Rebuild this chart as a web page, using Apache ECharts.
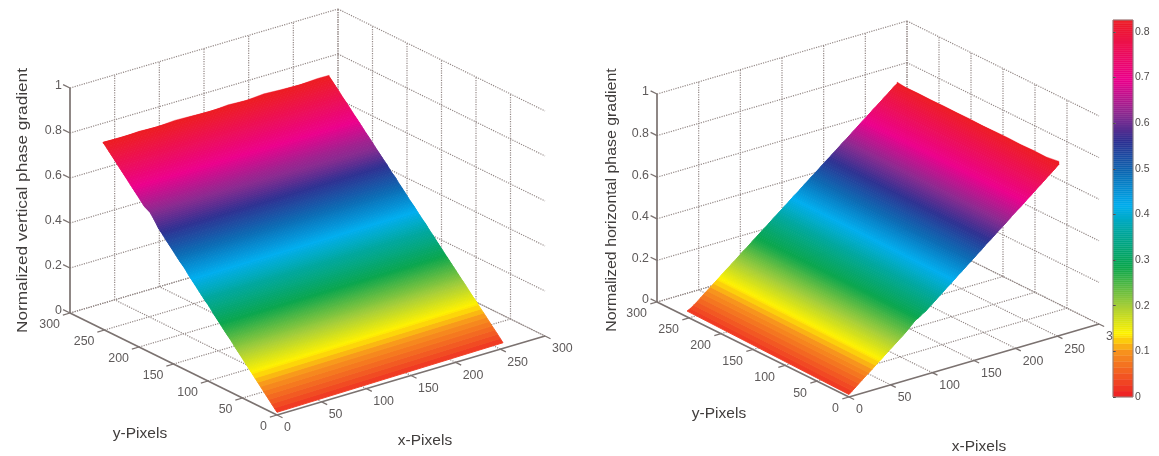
<!DOCTYPE html>
<html><head><meta charset="utf-8">
<style>html,body{margin:0;padding:0;background:#fff}#main{width:1159px;height:456px;filter:blur(0.6px)}</style>
<script src="https://cdn.jsdelivr.net/npm/echarts@6/dist/echarts.min.js"></script>
</head><body><div id="main"></div>
<script>
// ---- axis ticks
const xTicks = [0,50,100,150,200,250,300];
const yTicks = [0,50,100,150,200,250,300];
const zTicks = [0,0.2,0.4,0.6,0.8,1];
const leftXTickLabels  = ['0','50','100','150','200','250','300'];
const rightXTickLabels = ['0','50','100','150','200','250','3'];
const yTickLabels = ['0','50','100','150','200','250','300'];
const zTickLabels = ['0','0.2','0.4','0.6','0.8','1'];
const colorbarTicks = [0,0.1,0.2,0.3,0.4,0.5,0.6,0.7,0.8];

// ---- surface rows (pixels along the gradient direction)
const rowPixels = [0,4,8,12,16,20,24,28,32,36,40,44,48,52,56,60,64,68,72,76,80,84,88,92,96,100,104,108,112,116,120,124,128,132,136,140,144,148,152,156,160,164,168,172,176,180,184,188,192,196,200,204,208,212,216,220,224,228,232,236,240,244,248,252];
const spanEnd = 253;
// left surface: gradient value along y at x = 0 and at x = spanEnd
const verticalAtX0 = [.012,.025,.038,.051,.064,.077,.090,.103,.116,.129,.142,.155,.168,.181,.194,.207,.221,.234,.246,.259,.272,.285,.298,.311,.326,.339,.350,.363,.376,.389,.402,.415,.428,.443,.456,.467,.480,.493,.506,.519,.532,.545,.558,.571,.590,.607,.622,.629,.636,.649,.662,.675,.688,.701,.714,.727,.740,.753,.766,.779,.792,.805,.818,.830];
const verticalAtXEnd = [.025,.038,.051,.064,.076,.089,.102,.115,.127,.140,.153,.165,.178,.191,.204,.216,.229,.242,.254,.267,.280,.292,.305,.318,.331,.345,.356,.369,.384,.395,.407,.420,.434,.446,.457,.471,.484,.497,.509,.524,.534,.547,.562,.573,.586,.599,.611,.624,.637,.650,.662,.675,.688,.701,.713,.726,.739,.752,.764,.777,.790,.803,.816,.828];
// right surface: gradient value along x at y = 0 and at y = spanEnd
const horizontalAtY0 = [.012,.025,.038,.051,.064,.077,.089,.102,.115,.128,.141,.154,.167,.180,.192,.205,.218,.231,.246,.262,.277,.284,.297,.305,.318,.331,.344,.357,.370,.384,.396,.409,.422,.436,.448,.461,.474,.487,.500,.513,.526,.540,.552,.565,.578,.591,.603,.616,.629,.644,.656,.668,.681,.694,.707,.720,.733,.746,.759,.772,.785,.798,.811,.825];
const horizontalAtYEnd = [.028,.036,.047,.059,.072,.085,.098,.111,.123,.136,.149,.162,.175,.187,.200,.213,.226,.239,.251,.264,.277,.290,.303,.315,.328,.341,.354,.367,.379,.392,.405,.418,.431,.443,.456,.469,.482,.495,.507,.520,.533,.546,.559,.571,.584,.597,.610,.623,.635,.648,.661,.674,.687,.699,.712,.725,.738,.751,.763,.776,.789,.802,.815,.827];
// rough far edges of the surfaces
const farEdgeSpan = [0,20,40,60,80,100,120,140,160,180,200,220,240,253];
const verticalFarEdge = [.832,.828,.833,.829,.835,.832,.828,.834,.830,.836,.832,.829,.834,.833];
const horizontalFarEdge = [.838,.829,.830,.828,.830,.829,.828,.830,.829,.830,.829,.830,.829,.834];

// ---- colour map
const colorStops = [0,.05,.10,.14,.20,.285,.36,.42,.49,.56,.62,.695,.826];
const colorValues = ['#ed1c24','#f25a22','#f7941d','#fff200','#a6ce39','#0aa64d','#00a79d','#00aeef','#0b6cb5','#2e3192','#8a2a90','#ec008c','#ed1c24'];
const colorbarLevels = [0,.013,.026,.039,.052,.065,.078,.091,.104,.117,.13,.143,.156,.169,.182,.195,.208,.221,.234,.247,.26,.273,.286,.299,.312,.325,.338,.351,.364,.377,.39,.403,.416,.429,.442,.455,.468,.481,.494,.507,.52,.533,.546,.559,.572,.585,.598,.611,.624,.637,.65,.663,.676,.689,.702,.715,.728,.741,.754,.767,.78,.793,.806,.819,.826];

const AXIS = '#7b7270', GRIDC = '#94898700', TICKT = '#5e5a5a', TITLE = '#403d3c';
const GRIDLINE = '#948987';
const FONT = '"Liberation Sans", Arial, sans-serif';

function colorOf(v){
  for(let i=1;i<colorStops.length;i++){
    if(v<=colorStops[i]){
      const t=(v-colorStops[i-1])/(colorStops[i]-colorStops[i-1]);
      return echarts.color.lerp(Math.max(0,t),[colorValues[i-1],colorValues[i]]);
    }
  }
  return colorValues[colorValues.length-1];
}

// camera of each 3D box: projected offset per data unit (1 projected unit = 1 px)
const panels = [
 {ex:[268/300,79/300], ey:[-207/300,102/300], ez:225, xLabels:leftXTickLabels,
  rows:'y', a:verticalAtX0, b:verticalAtXEnd, far:verticalFarEdge,
  gridIdx:0, title:'Normalized vertical phase gradient', titleAt:[23,200.5,15.5,1.11],
  yName:[140,434], xName:[425,441]},
 {ex:[250/300,73/300], ey:[-192/300,95/300], ez:208, xLabels:rightXTickLabels,
  rows:'x', a:horizontalAtY0, b:horizontalAtYEnd, far:horizontalFarEdge,
  gridIdx:1, title:'Normalized horizontal phase gradient', titleAt:[612,200,15,1.06],
  yName:[719,414], xName:[979,447]}
];
const gridBoxes = [
 {left:0,top:0,width:600,height:456,xr:[-277,323],yr:[-41,415],ox:277,oy:415},
 {left:600,top:0,width:559,height:456,xr:[-249,310],yr:[-59,397],ox:849,oy:397}
];
const proj=(p,x,y,z)=>[x*p.ex[0]+y*p.ey[0], x*p.ex[1]+y*p.ey[1]+z*p.ez];

function customSeries(gi, items, render, z){
  return {type:'custom',xAxisIndex:gi,yAxisIndex:gi,silent:true,animation:false,z:z,clip:false,
    data:items.map((_,i)=>i),
    encode:{x:0,y:0},
    renderItem:(params,api)=>render(items[params.dataIndex],api)};
}
function segmentShape(s,api,style){
  const a=api.coord(s[0]), b=api.coord(s[1]);
  return {type:'line',shape:{x1:a[0],y1:a[1],x2:b[0],y2:b[1]},style:style};
}
function textEl(t,px,py,align,size,fill){
  return {type:'text',x:px,y:py,style:{text:t,fill:fill,font:size+'px '+FONT,align:align,verticalAlign:'middle'}};
}
const mix=(a,b,t)=>[a[0]+(b[0]-a[0])*t,a[1]+(b[1]-a[1])*t];

const series=[];
panels.forEach(p=>{
  const gi=p.gridIdx, box=gridBoxes[gi];
  // dotted walls and floor
  const dots=[];
  zTicks.forEach(z=>{
    dots.push([proj(p,0,300,z),proj(p,300,300,z)]);
    dots.push([proj(p,300,300,z),proj(p,300,0,z)]);
  });
  xTicks.forEach(x=>{
    if(x>0) dots.push([proj(p,x,0,0),proj(p,x,300,0)]);
    if(x>0) dots.push([proj(p,x,300,0),proj(p,x,300,1)]);
  });
  yTicks.forEach(y=>{
    if(y>0) dots.push([proj(p,0,y,0),proj(p,300,y,0)]);
    if(y>0) dots.push([proj(p,300,y,0),proj(p,300,y,1)]);
  });
  series.push(customSeries(gi,dots,(s,api)=>segmentShape(s,api,{stroke:GRIDLINE,lineWidth:1.2,lineDash:[1.2,1.2]}),1));

  // surface
  const pt=(row,span,z)=> p.rows==='y' ? proj(p,span,row,z) : proj(p,row,span,z);
  const quads=[];
  for(let i=0;i<rowPixels.length-1;i++){
    quads.push({A0:pt(rowPixels[i],0,p.a[i]),B0:pt(rowPixels[i],spanEnd,p.b[i]),
                A1:pt(rowPixels[i+1],0,p.a[i+1]),B1:pt(rowPixels[i+1],spanEnd,p.b[i+1]),
                v0:(p.a[i]+p.b[i])/2,v1:(p.a[i+1]+p.b[i+1])/2});
  }
  series.push(customSeries(gi,quads,(q,api)=>{
    const n=q.v0<0.13?1:3, children=[];
    for(let k=0;k<n;k++){
      const t0=k/n,t1=(k+1)/n;
      const c=colorOf(q.v0+(q.v1-q.v0)*(n===1?0.5:(t0+t1)/2));
      const pts=[mix(q.A0,q.A1,t0),mix(q.B0,q.B1,t0),mix(q.B0,q.B1,t1),mix(q.A0,q.A1,t1)].map(a=>api.coord(a));
      children.push({type:'polygon',shape:{points:pts},style:{fill:c,stroke:c,lineWidth:0.9}});
    }
    return {type:'group',children:children};
  },2));
  // rough far edge of the surface
  const lastRow=rowPixels[rowPixels.length-1], L=p.a.length-1;
  const farPts=farEdgeSpan.map((s,k)=>pt(lastRow,s,p.far[k]));
  farPts.push(pt(lastRow,spanEnd,p.b[L]-0.004),pt(lastRow,0,p.a[L]-0.004));
  series.push(customSeries(gi,[farPts],(pts,api)=>({type:'polygon',shape:{points:pts.map(a=>api.coord(a))},
    style:{fill:colorOf(0.824),stroke:colorOf(0.824),lineWidth:0.4}}),2));

  // solid axes and ticks
  const solid=[[proj(p,0,0,0),proj(p,300,0,0)],[proj(p,0,0,0),proj(p,0,300,0)],[proj(p,0,300,0),proj(p,0,300,1)]];
  const marks=[];
  xTicks.forEach(x=>marks.push([proj(p,x,0,0),proj(p,x,-8,0)]));
  yTicks.forEach(y=>marks.push([proj(p,0,y,0),proj(p,-8,y,0)]));
  zTicks.forEach(z=>marks.push([proj(p,0,300,z),proj(p,0,310,z)]));
  series.push(customSeries(gi,solid,(s,api)=>segmentShape(s,api,{stroke:AXIS,lineWidth:1.7}),3));
  series.push(customSeries(gi,marks,(s,api)=>segmentShape(s,api,{stroke:AXIS,lineWidth:1.3}),3));

  // tick labels
  const labels=[];
  xTicks.forEach((x,i)=>labels.push({t:p.xLabels[i],at:proj(p,x,0,0),dx:7,dy:13,align:'left'}));
  yTicks.forEach((y,i)=>labels.push({t:yTickLabels[i],at:proj(p,0,y,0),dx:-10,dy:12,align:'right'}));
  zTicks.forEach((z,i)=>labels.push({t:zTickLabels[i],at:proj(p,0,300,z),dx:-8,dy:-2,align:'right'}));
  series.push(customSeries(gi,labels,(l,api)=>{
    const c=api.coord(l.at);
    return textEl(l.t,c[0]+l.dx,c[1]+l.dy,l.align,12.4,TICKT);
  },4));

  // axis titles (given in canvas pixels, converted to the panel's projected units)
  const toData=(px,py)=>[px-box.ox,box.oy-py];
  const names=[{t:'y-Pixels',at:toData(p.yName[0],p.yName[1]),rot:0,size:15.5,sx:1},
               {t:'x-Pixels',at:toData(p.xName[0],p.xName[1]),rot:0,size:15.5,sx:1},
               {t:p.title,at:toData(p.titleAt[0],p.titleAt[1]),rot:Math.PI/2,size:p.titleAt[2],sx:p.titleAt[3]}];
  series.push(customSeries(gi,names,(n,api)=>{
    const c=api.coord(n.at);
    const e=textEl(n.t,c[0],c[1],'center',n.size,TITLE);
    e.rotation=n.rot; e.scaleX=n.sx;
    return e;
  },4));
});

// colour bar
const bands=[];
for(let i=0;i<colorbarLevels.length-1;i++) bands.push([colorbarLevels[i],colorbarLevels[i+1]]);
series.push({type:'custom',xAxisIndex:2,yAxisIndex:2,silent:true,animation:false,z:2,
  data:bands.map((_,i)=>i),encode:{x:0,y:0},
  renderItem:(params,api)=>{
    const b=bands[params.dataIndex];
    const n=b[0]<0.13?1:3, children=[];
    for(let k=0;k<n;k++){
      const lo=b[0]+(b[1]-b[0])*k/n, hi=b[0]+(b[1]-b[0])*(k+1)/n;
      const p0=api.coord([0,lo]),p1=api.coord([1,hi]);
      const c=colorOf((lo+hi)/2);
      children.push({type:'rect',shape:{x:p0[0],y:p1[1],width:p1[0]-p0[0],height:p0[1]-p1[1]},style:{fill:c,stroke:c,lineWidth:0.4}});
    }
    return {type:'group',children:children};
  }});

const hidden=(extra)=>Object.assign({type:'value',show:false,scale:true},extra);
const option={
  animation:false,backgroundColor:'#fff',
  grid:[
    ...gridBoxes.map(b=>({left:b.left,top:b.top,width:b.width,height:b.height})),
    {left:1113,top:20,width:20,height:377,show:true,borderColor:'#8c8583',borderWidth:1,backgroundColor:'transparent',z:5}
  ],
  xAxis:[
    ...gridBoxes.map((b,i)=>hidden({gridIndex:i,min:b.xr[0],max:b.xr[1]})),
    hidden({gridIndex:2,min:0,max:1})
  ],
  yAxis:[
    ...gridBoxes.map((b,i)=>hidden({gridIndex:i,min:b.yr[0],max:b.yr[1]})),
    {type:'value',gridIndex:2,min:0,max:0.826,position:'right',z:6,
      axisLine:{show:false},splitLine:{show:false},
      axisTick:{show:true,inside:false,length:3,customValues:colorbarTicks,lineStyle:{color:'#6e6a69',width:1}},
      axisLabel:{show:true,customValues:colorbarTicks,margin:2,fontSize:10.5,fontFamily:FONT,color:'#4e4a49',formatter:v=>v===0?'0':v.toFixed(1)}},
    {type:'value',gridIndex:2,min:0,max:0.826,position:'left',z:6,
      axisLine:{show:false},splitLine:{show:false},axisLabel:{show:false},
      axisTick:{show:true,inside:true,length:2,customValues:colorbarTicks,lineStyle:{color:'#55504e',width:1}}}
  ],
  series:series
};
const chart=echarts.init(document.getElementById('main'),null,{renderer:'canvas'});
chart.setOption(option);
</script></body></html>
